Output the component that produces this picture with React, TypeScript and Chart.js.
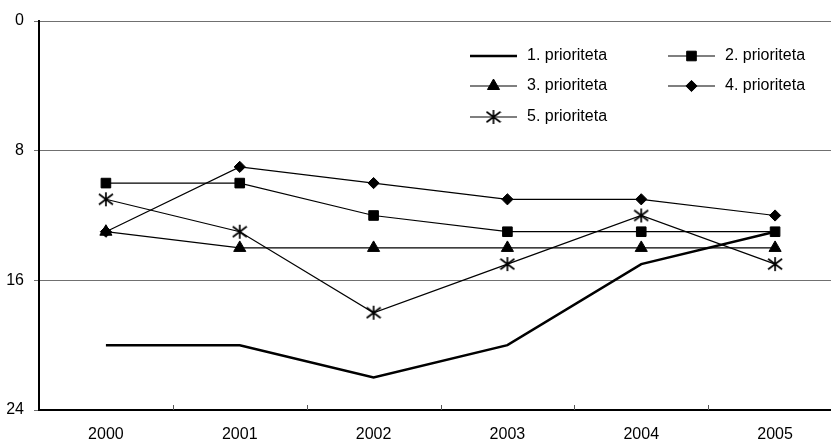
import React, { useEffect, useRef } from 'react';
import { Chart, registerables } from 'chart.js';
import { drawPoint } from 'chart.js/helpers';

Chart.register(...registerables);

const categories = ['2000', '2001', '2002', '2003', '2004', '2005'];
const seriesLabels = ['1. prioriteta', '2. prioriteta', '3. prioriteta', '4. prioriteta', '5. prioriteta'];
const p1 = [20, 20, 22, 20, 15, 13];
const p2 = [10, 10, 12, 13, 13, 13];
const p3 = [13, 14, 14, 14, 14, 14];
const p4 = [13, 9, 10, 11, 11, 12];
const p5 = [11, 13, 18, 15, 12, 15];
const yTicks = [0, 8, 16, 24];

const FONT = "'Liberation Sans', Arial, sans-serif";
const CANVAS_W = 850;
const CANVAS_H = 446;

function makeStar(size: number): HTMLCanvasElement {
  const c = document.createElement('canvas');
  c.width = size;
  c.height = size;
  const ctx = c.getContext('2d')!;
  ctx.strokeStyle = '#000';
  ctx.lineWidth = 1.7;
  const m = size / 2;
  const r = size / 2 - 1;
  ctx.beginPath();
  ctx.moveTo(m, m - r);
  ctx.lineTo(m, m + r);
  ctx.moveTo(m - r, m - r * 0.75);
  ctx.lineTo(m + r, m + r * 0.75);
  ctx.moveTo(m + r, m - r * 0.75);
  ctx.lineTo(m - r, m + r * 0.75);
  ctx.stroke();
  return c;
}

const insideLegend = {
  id: 'insideLegend',
  afterDraw(chart: any) {
    const ctx = chart.ctx as CanvasRenderingContext2D;
    const cols = [470, 668];
    const rows = [56, 86, 117];
    chart.data.datasets.forEach((ds: any, i: number) => {
      const x0 = cols[i % 2];
      const y = rows[Math.floor(i / 2)];
      ctx.save();
      ctx.strokeStyle = '#000';
      ctx.lineWidth = ds.borderWidth;
      ctx.beginPath();
      ctx.moveTo(x0, y);
      ctx.lineTo(x0 + 47, y);
      ctx.stroke();
      if (ds.pointRadius > 0) {
        ctx.fillStyle = '#000';
        ctx.strokeStyle = '#000';
        ctx.lineWidth = 1;
        drawPoint(ctx, { pointStyle: ds.pointStyle, radius: ds.pointRadius, borderWidth: 1, rotation: 0 } as any, x0 + 23.5, y);
      }
      ctx.fillStyle = '#000';
      ctx.font = `16px ${FONT}`;
      ctx.textBaseline = 'middle';
      ctx.textAlign = 'left';
      ctx.fillText(ds.label, x0 + 57, y);
      ctx.restore();
    });
  },
};

const innerXTicks = {
  id: 'innerXTicks',
  afterDraw(chart: any) {
    const ctx = chart.ctx as CanvasRenderingContext2D;
    const xs = chart.scales.x;
    const bottom = chart.chartArea.bottom;
    ctx.save();
    ctx.strokeStyle = '#555';
    ctx.lineWidth = 1;
    for (let i = 1; i <= categories.length; i++) {
      const px = Math.round(xs.getPixelForValue(i - 0.5)) + 0.5;
      ctx.beginPath();
      ctx.moveTo(px, bottom - 5);
      ctx.lineTo(px, bottom);
      ctx.stroke();
    }
    ctx.restore();
  },
};

export default function App() {
  const ref = useRef<HTMLCanvasElement | null>(null);

  useEffect(() => {
    document.body.style.margin = '0';
    document.body.style.overflow = 'hidden';
    const canvas = ref.current!;
    const star = makeStar(16);
    const common = {
      borderColor: '#000',
      backgroundColor: '#000',
      pointBackgroundColor: '#000',
      pointBorderColor: '#000',
      pointBorderWidth: 1,
      tension: 0,
      fill: false,
    };
    const chart = new Chart(canvas, {
      type: 'line',
      data: {
        labels: categories,
        datasets: [
          { ...common, label: seriesLabels[0], data: p1, borderWidth: 2.5, pointRadius: 0, pointStyle: 'circle' },
          { ...common, label: seriesLabels[1], data: p2, borderWidth: 1.2, pointRadius: 6.8, pointStyle: 'rect' },
          { ...common, label: seriesLabels[2], data: p3, borderWidth: 1.2, pointRadius: 7, pointStyle: 'triangle' },
          { ...common, label: seriesLabels[3], data: p4, borderWidth: 1.2, pointRadius: 5.6, pointStyle: 'rectRot' },
          { ...common, label: seriesLabels[4], data: p5, borderWidth: 1.2, pointRadius: 7, pointStyle: star as any },
        ],
      },
      options: {
        responsive: false,
        animation: false,
        layout: { padding: { top: 21, right: 7, left: 0, bottom: 0 } },
        plugins: {
          legend: { display: false },
          tooltip: { enabled: false },
        },
        scales: {
          x: {
            offset: true,
            grid: { display: false, drawTicks: false, offset: true },
            border: { color: '#000', width: 2 },
            ticks: { color: '#000', font: { family: FONT, size: 16 }, padding: 15, maxRotation: 0 },
            afterFit: (s: any) => { s.height = CANVAS_H - 410; },
          },
          y: {
            reverse: true,
            min: 0,
            max: 24,
            afterBuildTicks: (s: any) => { s.ticks = yTicks.map((v) => ({ value: v })); },
            grid: { color: '#707070', lineWidth: 1, drawTicks: true, tickLength: 5 },
            border: { color: '#000', width: 2 },
            ticks: { color: '#000', font: { family: FONT, size: 16 }, padding: 10 },
            afterFit: (s: any) => { s.width = 39; },
          },
        },
      },
      plugins: [insideLegend, innerXTicks],
    });
    return () => chart.destroy();
  }, []);

  return (
    <div style={{ width: CANVAS_W, height: CANVAS_H }}>
      <canvas ref={ref} width={CANVAS_W} height={CANVAS_H} />
    </div>
  );
}
